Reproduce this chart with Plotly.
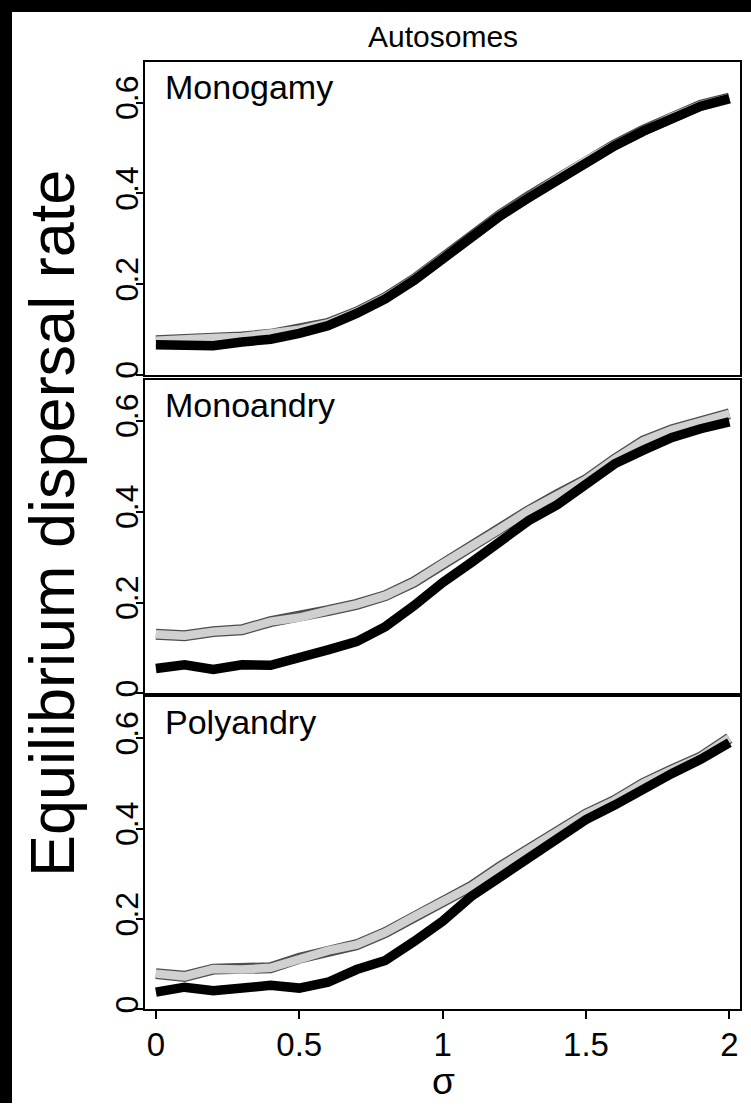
import plotly.graph_objects as go

W, H = 751, 1107

sigma = [0.0, 0.1, 0.2, 0.3, 0.4, 0.5, 0.6, 0.7, 0.8, 0.9, 1.0,
         1.1, 1.2, 1.3, 1.4, 1.5, 1.6, 1.7, 1.8, 1.9, 2.0]

monogamy_black = [0.066, 0.066, 0.064, 0.072, 0.078, 0.091, 0.108, 0.135, 0.167, 0.208, 0.255,
                  0.300, 0.350, 0.390, 0.430, 0.470, 0.505, 0.537, 0.567, 0.592, 0.609]
monogamy_grey = [0.075, 0.076, 0.081, 0.083, 0.089, 0.099, 0.113, 0.138, 0.170, 0.210, 0.258,
                 0.302, 0.352, 0.393, 0.433, 0.472, 0.507, 0.539, 0.568, 0.594, 0.610]

monoandry_black = [0.055, 0.063, 0.053, 0.063, 0.062, 0.077, 0.096, 0.114, 0.147, 0.193, 0.244,
                   0.288, 0.332, 0.380, 0.415, 0.460, 0.505, 0.535, 0.563, 0.582, 0.597]
monoandry_grey = [0.130, 0.127, 0.136, 0.140, 0.158, 0.167, 0.182, 0.196, 0.215, 0.245, 0.285,
                  0.322, 0.362, 0.402, 0.437, 0.470, 0.515, 0.555, 0.580, 0.598, 0.615]

polyandry_black = [0.038, 0.049, 0.041, 0.048, 0.053, 0.047, 0.060, 0.088, 0.108, 0.150, 0.195,
                   0.250, 0.292, 0.335, 0.378, 0.420, 0.452, 0.490, 0.522, 0.553, 0.590]
polyandry_grey = [0.079, 0.073, 0.089, 0.088, 0.092, 0.113, 0.130, 0.143, 0.170, 0.205, 0.240,
                  0.272, 0.315, 0.355, 0.392, 0.432, 0.462, 0.500, 0.530, 0.558, 0.600]

panels = [
    ("Monogamy", monogamy_grey, monogamy_black),
    ("Monoandry", monoandry_grey, monoandry_black),
    ("Polyandry", polyandry_grey, polyandry_black),
]

y_ticks = [0, 0.2, 0.4, 0.6]
y_tick_text = ["0", "0.2", "0.4", "0.6"]
x_ticks = [0, 0.5, 1, 1.5, 2]
x_tick_text = ["0", "0.5", "1", "1.5", "2"]

FONT = "Liberation Sans, Arial, sans-serif"

# panel pixel extents (top, bottom) and shared horizontal extent
panel_px = [(62, 376), (381, 696), (700, 1013)]
x_px = (145, 740)


def py(v):
    return 1 - v / H


fig = go.Figure()
layout = dict(
    width=W, height=H, autosize=False,
    margin=dict(l=0, r=0, t=0, b=0),
    paper_bgcolor="white", plot_bgcolor="white",
    showlegend=False,
    font=dict(family=FONT, color="black"),
)

annotations = []
for i, (name, grey, black) in enumerate(panels):
    n = i + 1
    xa = "x" if n == 1 else f"x{n}"
    ya = "y" if n == 1 else f"y{n}"
    # grey series: dark outline with light fill on top
    fig.add_trace(go.Scatter(x=sigma, y=grey, mode="lines", xaxis=xa, yaxis=ya,
                             line=dict(color="#4d4d4d", width=11), hoverinfo="skip"))
    fig.add_trace(go.Scatter(x=sigma, y=grey, mode="lines", xaxis=xa, yaxis=ya,
                             line=dict(color="#d0d0d0", width=8.5), hoverinfo="skip"))
    fig.add_trace(go.Scatter(x=sigma, y=black, mode="lines", xaxis=xa, yaxis=ya,
                             line=dict(color="black", width=9.5), hoverinfo="skip"))

    top, bot = panel_px[i]
    last = n == 3
    layout["xaxis" if n == 1 else f"xaxis{n}"] = dict(
        domain=[x_px[0] / W, x_px[1] / W], anchor=ya,
        range=[-0.038, 2.037], showgrid=False, zeroline=False,
        showline=True, mirror=True, linecolor="black", linewidth=1.5,
        tickvals=x_ticks, ticktext=x_tick_text,
        ticks="outside" if last else "", ticklen=8, tickwidth=1.5, tickcolor="black",
        ticklabelstandoff=-3,
        showticklabels=last, tickfont=dict(size=33, family=FONT, color="black"),
    )
    layout["yaxis" if n == 1 else f"yaxis{n}"] = dict(
        domain=[py(bot), py(top)], anchor=xa,
        range=[0, 0.69], showgrid=False, zeroline=False,
        showline=True, mirror=True, linecolor="black", linewidth=1.5,
        tickvals=y_ticks, ticktext=y_tick_text, tickangle=-90,
        ticks="outside", ticklen=7, tickwidth=1.5, tickcolor="black",
        ticklabelstandoff=-15,
        tickfont=dict(size=32, family=FONT, color="black"),
    )
    annotations.append(dict(
        text=name, xref="paper", yref="paper", x=163 / W, y=py(top + 4),
        xanchor="left", yanchor="top", showarrow=False,
        font=dict(size=34, family=FONT, color="black"),
    ))

annotations += [
    dict(text="Autosomes", xref="paper", yref="paper", x=443 / W, y=py(37),
         xanchor="center", yanchor="middle", showarrow=False,
         font=dict(size=30, family=FONT, color="black")),
    dict(text="Equilibrium dispersal rate", xref="paper", yref="paper",
         x=52 / W, y=py(526), xanchor="center", yanchor="middle", textangle=-90,
         showarrow=False, font=dict(size=63, family=FONT, color="black")),
    dict(text="σ", xref="paper", yref="paper", x=443 / W, y=0,
         xanchor="center", yanchor="bottom", showarrow=False, borderpad=0,
         font=dict(size=37, family=FONT, color="black")),
]
layout["annotations"] = annotations

# dark frame strips along the left and top edges
layout["shapes"] = [
    dict(type="rect", xref="paper", yref="paper", x0=0, x1=12 / W, y0=0, y1=1,
         fillcolor="black", line=dict(width=0)),
    dict(type="rect", xref="paper", yref="paper", x0=0, x1=1, y0=py(12), y1=1,
         fillcolor="black", line=dict(width=0)),
]

fig.update_layout(**layout)
fig.write_html("out.html")
